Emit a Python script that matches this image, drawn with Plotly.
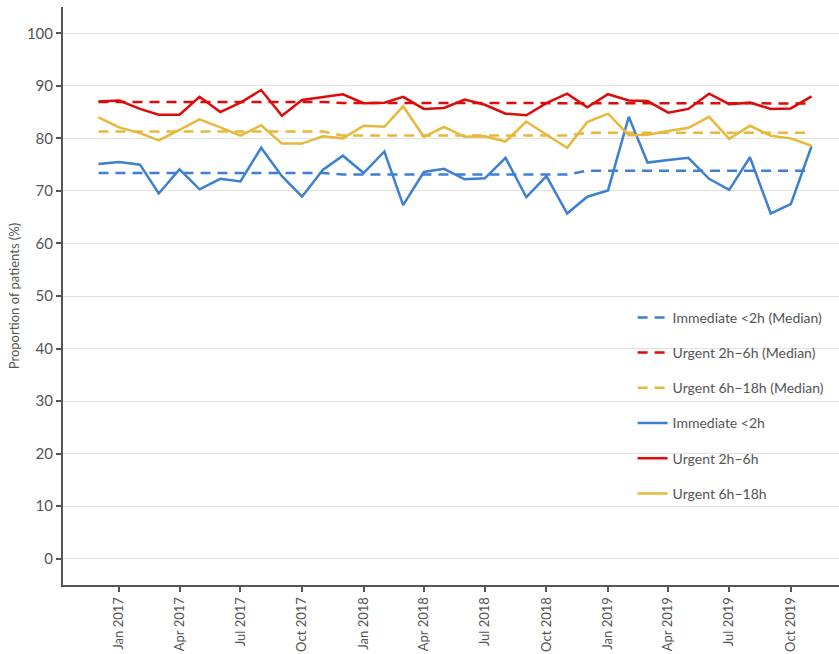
import plotly.graph_objects as go
import pandas as pd

months = pd.date_range("2016-12-01", "2019-11-01", freq="MS")

immediate = [75.1, 75.5, 75.0, 69.5, 74.1, 70.3, 72.3, 71.8, 78.2, 72.8, 68.9, 74.0,
             76.7, 73.4, 77.5, 67.3, 73.6, 74.2, 72.2, 72.4, 76.3, 68.8, 72.8, 65.7,
             68.9, 70.1, 84.1, 75.4, 75.9, 76.3, 72.3, 70.2, 76.4, 65.7, 67.5, 78.5]
urgent_2_6 = [87.0, 87.2, 85.6, 84.5, 84.5, 87.9, 85.0, 86.8, 89.2, 84.3, 87.3, 87.8,
              88.4, 86.7, 86.8, 87.9, 85.6, 85.8, 87.4, 86.4, 84.7, 84.4, 86.7, 88.5,
              85.9, 88.4, 87.2, 87.1, 84.9, 85.6, 88.5, 86.5, 86.8, 85.6, 85.7, 88.0]
urgent_6_18 = [84.0, 82.1, 81.0, 79.6, 81.6, 83.6, 82.1, 80.5, 82.5, 79.0, 79.0, 80.4,
               80.0, 82.4, 82.2, 86.1, 80.3, 82.2, 80.3, 80.4, 79.4, 83.2, 80.7, 78.2,
               83.1, 84.7, 80.6, 80.7, 81.4, 82.0, 84.1, 79.9, 82.4, 80.5, 80.0, 78.6]

# yearly medians (Dec-Nov years)
immediate_median = [73.4] * 12 + [73.1] * 12 + [73.85] * 12
urgent_2_6_median = [86.9] * 12 + [86.75] * 12 + [86.65] * 12
urgent_6_18_median = [81.3] * 12 + [80.55] * 12 + [81.05] * 12

tick_dates = pd.date_range("2017-01-01", "2019-10-01", freq="QS")
tick_labels = [d.strftime("%b %Y") for d in tick_dates]

BLUE = "#3D80D2"
RED = "#DF0A0A"
YELLOW = "#E7B83B"

fig = go.Figure()
series = [
    ("Immediate <2h (Median)", immediate_median, BLUE, "10px,7px", 2.5),
    ("Urgent 2h\u22126h (Median)", urgent_2_6_median, RED, "10px,7px", 2.5),
    ("Urgent 6h\u221218h (Median)", urgent_6_18_median, YELLOW, "10px,7px", 2.5),
    ("Immediate <2h", immediate, BLUE, "solid", 2.5),
    ("Urgent 2h\u22126h", urgent_2_6, RED, "solid", 2.5),
    ("Urgent 6h\u221218h", urgent_6_18, YELLOW, "solid", 2.5),
]
for i, (name, vals, color, dash, w) in enumerate(series):
    fig.add_trace(go.Scatter(
        x=months, y=vals, name=name, mode="lines",
        line=dict(color=color, dash=dash, width=w),
        legendgroup=f"g{i}",
    ))

fig.update_layout(
    width=839, height=654,
    margin=dict(l=63, r=0, t=7, b=69),
    paper_bgcolor="white", plot_bgcolor="white",
    font=dict(family="Lato, sans-serif", color="#555555", size=14),
    legend=dict(
        x=0.734, y=0.49, xanchor="left", yanchor="top",
        traceorder="grouped", tracegroupgap=14,
        font=dict(size=14, color="#555555"),
        bgcolor="rgba(0,0,0,0)",
    ),
    showlegend=True,
)
fig.update_xaxes(
    range=["2016-10-09", "2019-12-12"], automargin=False,
    tickvals=tick_dates, ticktext=tick_labels, tickangle=-90,
    showgrid=False, showline=True, linecolor="#555555", linewidth=2,
    ticks="outside", ticklen=5, tickwidth=2, tickcolor="#555555",
    tickfont=dict(size=13, color="#555555"),
)
fig.update_yaxes(
    range=[-5, 105], tickvals=list(range(0, 101, 10)), automargin=False,
    showgrid=True, gridcolor="#e2e2e2", gridwidth=1, zeroline=False,
    showline=True, linecolor="#555555", linewidth=2,
    ticks="outside", ticklen=5, tickwidth=2, tickcolor="#555555",
    tickfont=dict(size=15, color="#555555"),
    title=dict(text="Proportion of patients (%)", font=dict(size=13, color="#555555"), standoff=4),
)

fig.write_html("out.html", config={"displayModeBar": False},
               post_script="document.body.style.margin='0';")
